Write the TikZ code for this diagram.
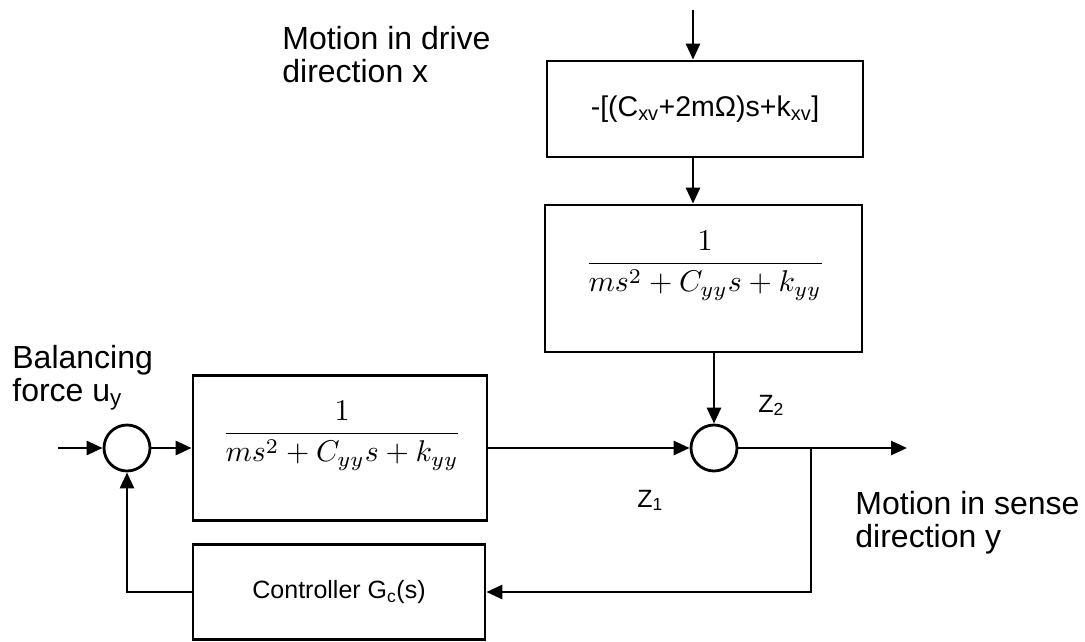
\documentclass[tikz,border=0pt]{standalone}
\usepackage{amsmath}
\usepackage{fontspec}
\setmainfont{Liberation Sans}
\setmathrm{Liberation Serif}
\usetikzlibrary{arrows.meta}

\newcommand{\plantfrac}{$\dfrac{1}{ms^2+C_{yy}s+k_{yy}}$}

\begin{document}
\begin{tikzpicture}[x=1pt, y=-1pt, line width=2.8pt,
  blk/.style 2 args={draw, minimum width=#1, minimum height=#2, inner sep=0pt},
  sum/.style={draw, circle, minimum size=46, inner sep=0pt},
  tf/.style={scale=3, inner sep=0pt},
  lbl/.style={font=\fontsize{32}{33}\selectfont, align=left, anchor=north west, inner sep=0pt},
  zl/.style={font=\fontsize{25}{28}\selectfont, anchor=base west, inner sep=0pt},
  sig/.style={-{Triangle[length=16pt,width=14pt]}}]
  \useasboundingbox (0,0) rectangle (1085,641);
  \node[blk={316}{96}] (Bx) at (705,109) {\fontsize{28.5}{30}\selectfont -[(C\textsubscript{xv}+2mΩ)s+k\textsubscript{xv}]};
  \node[blk={317}{147}] (By) at (703.5,278.5) {};
  \node[tf] (Ty) at (705,266) {\plantfrac};
  \node[blk={294}{145}] (Bf) at (340,448) {};
  \node[tf] (Tf) at (342,436) {\plantfrac};
  \node[blk={292}{95}] (Gc) at (339,592) {\fontsize{25}{28}\selectfont Controller G\textsubscript{c}(s)};
  \node[sum] (S1) at (127,448) {};
  \node[sum] (S2) at (714,448) {};
  \coordinate (in) at (693,10);
  \coordinate (u) at (58,448);
  \coordinate (out) at (907,448);
  \coordinate (br) at (811,448);
  \node[lbl] (drv) at (281,25) {Motion in drive\\direction x};
  \node[lbl] (bal) at (11,344) {Balancing\\force u\textsubscript{y}};
  \node[lbl] (sns) at (854,490) {Motion in sense\\direction y};
  \node[zl] (z2) at (757,412) {Z\textsubscript{2}};
  \node[zl] (z1) at (636,507) {Z\textsubscript{1}};
  \draw[sig] (in) -- (in |- Bx.north);
  \draw[sig] (in |- Bx.south) -- (in |- By.north);
  \draw[sig] (S2 |- By.south) -- (S2.north);
  \draw[sig] (u) -- (S1.west);
  \draw[sig] (S1.east) -- (Bf.west);
  \draw[sig] (Bf.east) -- (S2.west);
  \draw[sig] (S2.east) -- (out);
  \draw[sig] (br) |- (Gc.east);
  \draw[sig] (Gc.west) -| (S1.south);
\end{tikzpicture}
\end{document}
